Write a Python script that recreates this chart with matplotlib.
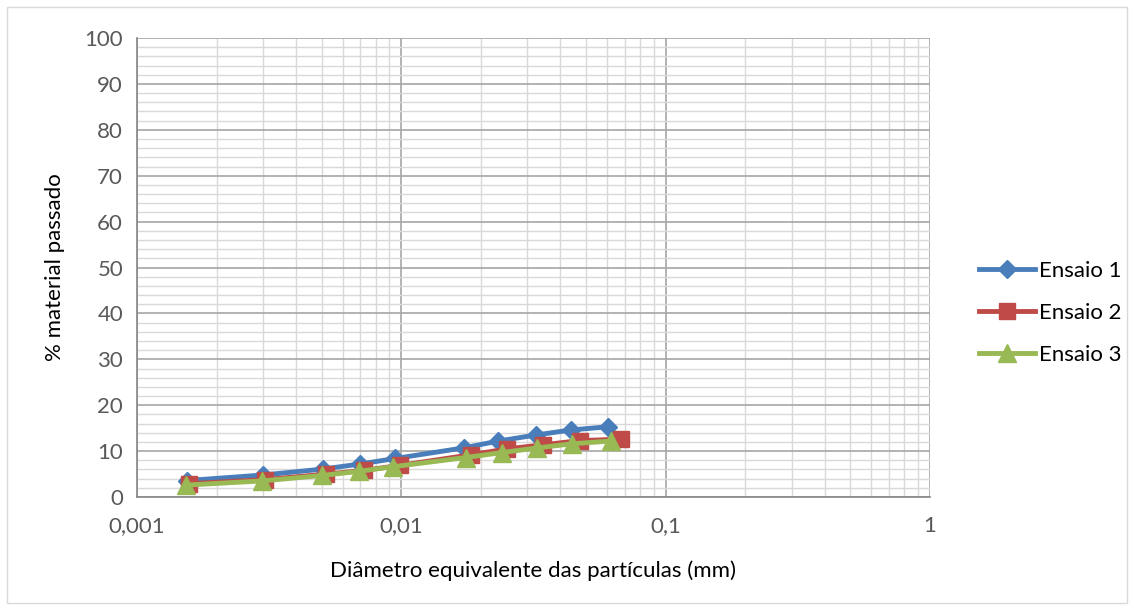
import numpy as np
import matplotlib.pyplot as plt
from matplotlib.ticker import FixedLocator, LogLocator, MultipleLocator, FixedFormatter
from matplotlib.patches import Rectangle

# dados
x_e1 = [0.00155, 0.0030, 0.00507, 0.0070, 0.0095, 0.0172, 0.0233, 0.0322, 0.0437, 0.0603]
y_e1 = [3.6, 4.8, 6.1, 7.2, 8.4, 10.7, 12.2, 13.5, 14.6, 15.3]

x_e2 = [0.00157, 0.00306, 0.0052, 0.0072, 0.0099, 0.0183, 0.0252, 0.0345, 0.0475, 0.0676]
y_e2 = [2.9, 3.8, 5.0, 5.8, 6.9, 9.2, 10.5, 11.4, 12.3, 12.6]

x_e3 = [0.00153, 0.00297, 0.00502, 0.0069, 0.0093, 0.0175, 0.0241, 0.0327, 0.0443, 0.0620]
y_e3 = [2.6, 3.5, 4.7, 5.6, 6.6, 8.6, 9.7, 10.7, 11.6, 12.2]

xticks = [0.001, 0.01, 0.1, 1]
xtick_labels = ['0,001', '0,01', '0,1', '1']

plt.rcParams['font.family'] = ['Lato', 'DejaVu Sans']

fig = plt.figure(figsize=(11.34, 6.10), dpi=100)
ax = fig.add_axes([0.1208, 0.1852, 0.6993, 0.7525])

# borda do gráfico
fig.patches.append(Rectangle((0.006, 0.012), 0.988, 0.976, transform=fig.transFigure,
                             fill=False, edgecolor='#d9d9d9', linewidth=1.0))

ax.plot(x_e1, y_e1, color='#4A7EBB', linewidth=3.5, marker='D', markersize=9.5, label='Ensaio 1', zorder=3)
ax.plot(x_e2, y_e2, color='#BE4B48', linewidth=3.5, marker='s', markersize=12, label='Ensaio 2', zorder=4)
ax.plot(x_e3, y_e3, color='#98B954', linewidth=3.5, marker='^', markersize=13, label='Ensaio 3', zorder=5)

ax.set_xscale('log')
ax.set_xlim(0.001, 1)
ax.set_ylim(0, 100)

ax.xaxis.set_major_locator(FixedLocator(xticks))
ax.xaxis.set_major_formatter(FixedFormatter(xtick_labels))
ax.xaxis.set_minor_locator(LogLocator(base=10, subs=np.arange(2, 10)))
ax.xaxis.set_minor_formatter(FixedFormatter([]))
ax.yaxis.set_major_locator(MultipleLocator(10))
ax.yaxis.set_minor_locator(MultipleLocator(2))

ax.grid(which='major', color='#a6a6a6', linewidth=1.2)
ax.grid(which='minor', color='#d9d9d9', linewidth=1.0)
ax.set_axisbelow(True)

for s in ['top', 'right']:
    ax.spines[s].set_visible(False)
for s in ['left', 'bottom']:
    ax.spines[s].set_color('#868686')
    ax.spines[s].set_linewidth(1.2)

ax.tick_params(which='both', length=0, labelsize=16, labelcolor='#595959')
ax.tick_params(axis='x', pad=14)
ax.tick_params(axis='y', pad=10)

ax.set_xlabel('Diâmetro equivalente das partículas (mm)', fontsize=16, labelpad=17)
ax.set_ylabel('% material passado', fontsize=16, labelpad=14)

fig.legend(loc='center left', bbox_to_anchor=(0.846, 0.487), frameon=False,
           fontsize=16, handlelength=2.5, labelspacing=1.0, handletextpad=0.2)

plt.savefig('out.png', dpi=100)
